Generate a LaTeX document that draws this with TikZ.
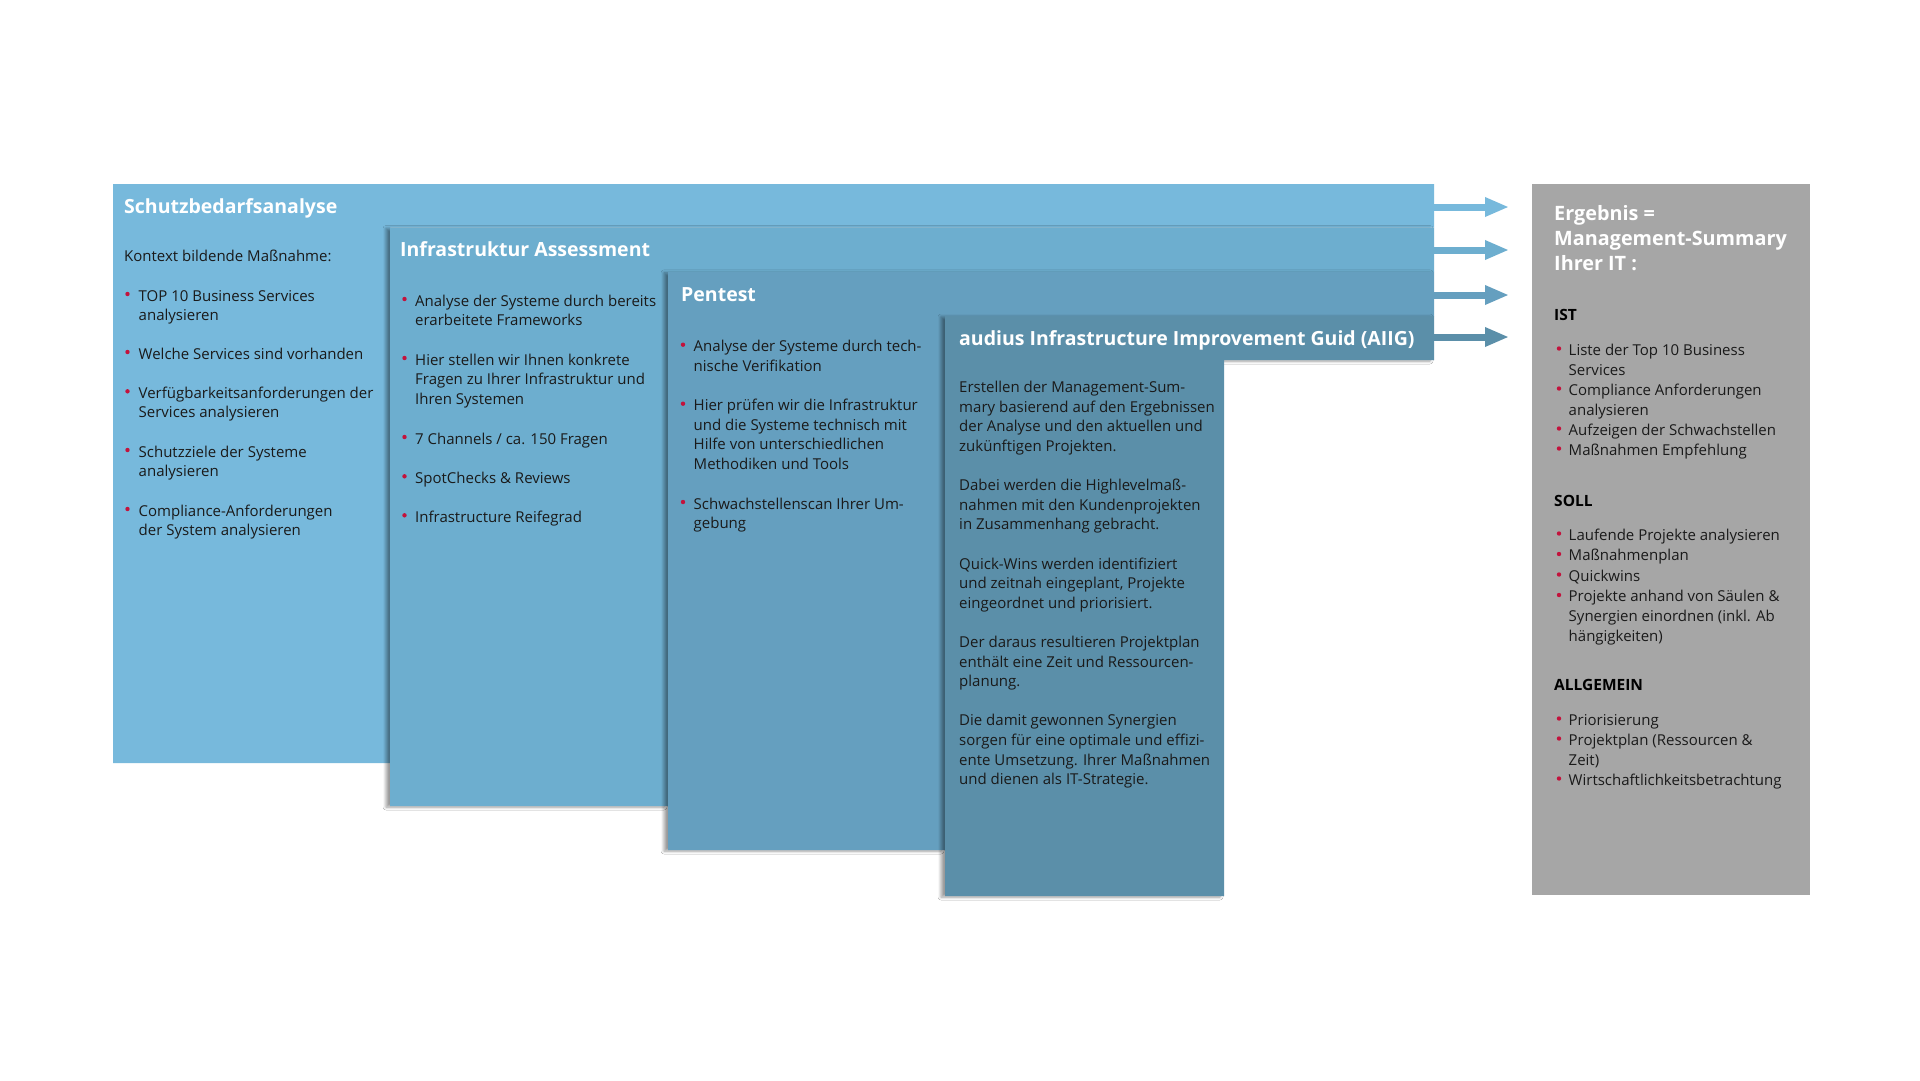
\documentclass[tikz,border=0pt]{standalone}
\usepackage{fontspec}
\setmainfont{Open Sans}
\usetikzlibrary{arrows.meta,shadows.blur}

\definecolor{stepA}{HTML}{77B9DC}
\definecolor{stepB}{HTML}{6DAECF}
\definecolor{stepC}{HTML}{659FBF}
\definecolor{stepD}{HTML}{5B8FA9}
\definecolor{resgray}{HTML}{A6A6A6}
\definecolor{bulletred}{HTML}{C3123C}
\definecolor{ink}{HTML}{1A1A1A}

\newcommand{\txtblock}[1]{\begin{tabular}[t]{@{}l@{}}#1\end{tabular}}

\tikzstyle{panel}=[fill=stepA]
\tikzstyle{panel shadowed}=[blur shadow={shadow xshift=-4pt, shadow yshift=-1pt, shadow blur radius=3pt, shadow blur steps=6, shadow opacity=40}]
\tikzstyle{title}=[anchor=base west, inner sep=0pt, text=white, font=\fontsize{19.5}{23}\selectfont\bfseries]
\tikzstyle{body}=[anchor=base west, inner sep=0pt, text=ink, font=\fontsize{15}{19.6}\selectfont]
\tikzstyle{sumtext}=[body, font=\fontsize{15}{20}\selectfont]
\tikzstyle{dot}=[circle, fill=bulletred, minimum size=4.4pt, inner sep=0pt]
\tikzstyle{result arrow}=[line width=7pt, -{Triangle[length=24pt,width=18pt]}]

\begin{document}
\begin{tikzpicture}[x=1pt, y=-1pt]
    \fill[white] (0,0) rectangle (1920,1080);
    \useasboundingbox (0,0) rectangle (1920,1080);

    % stacked phases
    \path[panel] (113,763) -- (113,184) -- (1434,184) -- (1434,227.5) -- (390,227.5) -- (390,763) -- cycle;
    \foreach \L/\T/\Tn/\R/\B/\col in {390/227.5/271.8/668/806/stepB, 668/271.8/316/945/850/stepC,
                                    945/316/360/1224/896/stepD}
        \path[panel shadowed, fill=\col] (\L,\B) -- (\L,\T) -- (1434,\T) -- (1434,\Tn) -- (\R,\Tn) -- (\R,\B) -- cycle;

    % result box
    \path[fill=resgray] (1532,184) rectangle (1810,895);

    % arrows to the result
    \foreach \i/\y/\col in {1/207/stepA, 2/250/stepB, 3/295/stepC, 4/337/stepD} {
        \coordinate (band\i) at (1434,\y);
        \coordinate (tip\i) at (1509,\y);
        \draw[result arrow, draw=\col] (band\i) -- (tip\i);
    }

    % titles
    \foreach \x/\y/\name/\txt in {124/213/schutz/Schutzbedarfsanalyse, 400/256/assess/Infrastruktur Assessment,
                                 681/301.7/pentest/Pentest, 959/345/aiig/audius Infrastructure Improvement Guid (AIIG)}
        \node[title] (title-\name) at (\x,\y) {\txt};
    \node[body] (kontext) at (124,261) {Kontext bildende Maßnahme:};

    % bullet lists
    \foreach \i/\y/\txt in {1/301/{TOP 10 Business Services\\analysieren}, 2/359/{Welche Services sind vorhanden},
                            3/398.3/{Verfügbarkeitsanforderungen der\\Services analysieren},
                            4/457/{Schutzziele der Systeme\\analysieren}, 5/516/{Compliance-Anforderungen\\der System analysieren}} {
        \node[dot] (schutz-d\i) at (127.5,\y-7) {};
        \node[body] (schutz-t\i) at (138.5,\y) {\txtblock{\txt}};
    }
    \foreach \i/\y/\txt in {1/306/{Analyse der Systeme durch bereits\\erarbeitete Frameworks},
                            2/365/{Hier stellen wir Ihnen konkrete\\Fragen zu Ihrer Infrastruktur und\\Ihren Systemen},
                            3/444/{7 Channels / ca. 150 Fragen}, 4/483.3/{SpotChecks \& Reviews}, 5/522.3/{Infrastructure Reifegrad}} {
        \node[dot] (assess-d\i) at (404.5,\y-7) {};
        \node[body] (assess-t\i) at (415,\y) {\txtblock{\txt}};
    }
    \foreach \i/\y/\txt in {1/351.7/{Analyse der Systeme durch tech-\\nische Verifikation},
                            2/410.7/{Hier prüfen wir die Infrastruktur\\und die Systeme technisch mit\\Hilfe von unterschiedlichen\\Methodiken und Tools},
                            3/509/{Schwachstellenscan Ihrer Um-\\gebung}} {
        \node[dot] (pentest-d\i) at (683,\y-7) {};
        \node[body] (pentest-t\i) at (693.5,\y) {\txtblock{\txt}};
    }
    \node[body] (aiig-text) at (959,392.7) {\txtblock{Erstellen der Management-Sum-\\mary basierend auf den Ergebnissen\\
        der Analyse und den aktuellen und\\zukünftigen Projekten.\\ \\
        Dabei werden die Highlevelmaß-\\nahmen mit den Kundenprojekten\\in Zusammenhang gebracht.\\ \\
        Quick-Wins werden identifiziert\\und zeitnah eingeplant, Projekte\\eingeordnet und priorisiert.\\ \\
        Der daraus resultieren Projektplan\\enthält eine Zeit und Ressourcen-\\planung.\\ \\
        Die damit gewonnen Synergien\\sorgen für eine optimale und effizi-\\ente Umsetzung. Ihrer Maßnahmen\\und dienen als IT-Strategie.}};

    % summary
    \node[title, font=\fontsize{19.8}{24.7}\selectfont\bfseries] (title-result) at (1554,220.7)
        {\txtblock{Ergebnis =\\Management-Summary\\Ihrer IT :}};
    \foreach \y/\name/\txt in {320/ist/IST, 506/soll/SOLL, 690/allg/ALLGEMEIN}
        \node[sumtext, font=\fontsize{15.5}{20}\selectfont\bfseries, text=black] (head-\name) at (1554,\y) {\txt};
    \foreach \i/\y/\txt in {1/355/{Liste der Top 10 Business\\Services}, 2/395/{Compliance Anforderungen\\analysieren},
                            3/435/{Aufzeigen der Schwachstellen}, 4/455/{Maßnahmen Empfehlung},
                            5/540/{Laufende Projekte analysieren}, 6/560.5/{Maßnahmenplan}, 7/581/{Quickwins},
                            8/601.5/{Projekte anhand von Säulen \&\\Synergien einordnen (inkl. Ab\\hängigkeiten)},
                            9/725/{Priorisierung}, 10/745/{Projektplan (Ressourcen \&\\Zeit)}, 11/785/{Wirtschaftlichkeitsbetrachtung}} {
        \node[dot] (result-d\i) at (1559,\y-6.5) {};
        \node[sumtext] (result-t\i) at (1568.5,\y) {\txtblock{\txt}};
    }
\end{tikzpicture}
\end{document}
